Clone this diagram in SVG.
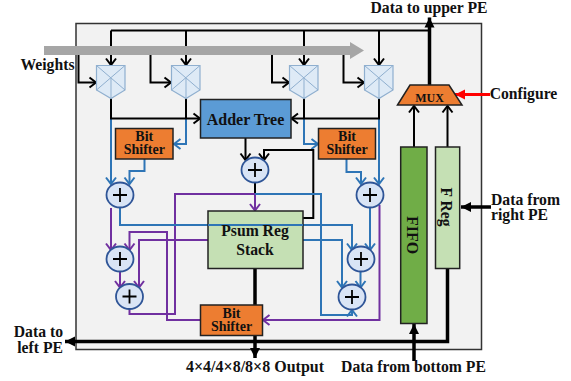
<svg xmlns="http://www.w3.org/2000/svg" width="571" height="381" viewBox="0 0 571 381">
<style>
text{font-family:"Liberation Serif",serif;font-weight:bold;fill:#111;text-anchor:middle}
.l{font-size:15.7px}.s{font-size:14px}
.box{stroke:#222;stroke-width:1.5}
.org{fill:#ED7D31}
.mx{fill:#DEEAF6;stroke:#8FAFCF;stroke-width:1.2}
.mxl{fill:none;stroke:#8FAFCF;stroke-width:1}
.ad{fill:#D9E4F5;stroke:#2F5597;stroke-width:1.8}
.plus{stroke:#000;stroke-width:1.8;fill:none}
path.c{fill:none;stroke-linejoin:miter}
.k{stroke:#000;stroke-width:2;marker-end:url(#ak)}
.k0{stroke:#000;stroke-width:2}
.b{stroke:#2E75B6;stroke-width:2;marker-end:url(#ab)}
.b0{stroke:#2E75B6;stroke-width:2}
.p{stroke:#7030A0;stroke-width:2;marker-end:url(#ap)}
.t{stroke:#000;stroke-width:3.5;marker-end:url(#at)}
.r{stroke:#F00;stroke-width:3;marker-end:url(#ar)}
</style>
<defs>
<marker id="ak" markerUnits="userSpaceOnUse" markerWidth="14" markerHeight="14" refX="11" refY="7" orient="auto" overflow="visible"><path d="M4.500,2 L11,7 L4.500,12" fill="none" stroke="#000" stroke-width="2"/></marker>
<marker id="ab" markerUnits="userSpaceOnUse" markerWidth="14" markerHeight="14" refX="11" refY="7" orient="auto" overflow="visible"><path d="M4.500,2 L11,7 L4.500,12" fill="none" stroke="#2E75B6" stroke-width="2"/></marker>
<marker id="ap" markerUnits="userSpaceOnUse" markerWidth="14" markerHeight="14" refX="11" refY="7" orient="auto" overflow="visible"><path d="M4.500,2 L11,7 L4.500,12" fill="none" stroke="#7030A0" stroke-width="2"/></marker>
<marker id="at" markerUnits="userSpaceOnUse" markerWidth="14" markerHeight="14" refX="11" refY="7" orient="auto" overflow="visible"><path d="M1,2 L11,7 L1,12 Z" fill="#000"/></marker>
<marker id="ar" markerUnits="userSpaceOnUse" markerWidth="14" markerHeight="14" refX="11" refY="7" orient="auto" overflow="visible"><path d="M1,2 L11,7 L1,12 Z" fill="#F00"/></marker>
</defs>
<rect id="pe-frame" x="76" y="23.5" width="405.500" height="326" fill="#F2F2F2" stroke="#333" stroke-width="1.500"/>

<g id="connectors">
<path class="c k0" d="M111,30.500 H429"/>
<path class="c k" d="M111,30.500 V65"/>
<path class="c k" d="M186,30.500 V65"/>
<path class="c k" d="M304,30.500 V65"/>
<path class="c k" d="M379,30.500 V65"/>
<path class="c k" d="M78.500,55 V82.500 H96"/>
<path class="c k" d="M150.500,55 V82.500 H171"/>
<path class="c k" d="M272,55 V82.500 H289"/>
<path class="c k" d="M343.500,55 V82.500 H364"/>
<path class="c b" d="M111,118.500 V184"/>
<path class="c b" d="M186,118.500 V144 H174"/>
<path class="c b" d="M144.500,159 V171 H129.500 V184"/>
<path class="c b" d="M304,118.500 V144 H318"/>
<path class="c b" d="M379,118.500 V184"/>
<path class="c b" d="M346.500,159 V172 H361 V184"/>
<path class="c k" d="M111,98 V118.500 H200"/>
<path class="c k0" d="M186,98 V118.500"/>
<path class="c k" d="M379,98 V118.500 H291.500"/>
<path class="c k0" d="M304,98 V118.500"/>
<path class="c k" d="M245.500,138 V160"/>
<path class="c k" d="M303,218 H313.300 V150 H264 V160"/>
<path class="c k0" d="M255,182 V211"/>
<path class="c p" d="M129.500,309 V314 H175 V194 H255 V210.500"/>
<path class="c p" d="M200.500,320 H167 V232 H129.500 V250"/>
<path class="c p" d="M208,240 H139 V287.500"/>
<path class="c p" d="M111,208 V250"/>
<path class="c p" d="M120,272 V287.500"/>
<path class="c p" d="M379.500,205 V320 H263"/>
<path class="c b" d="M120,208 V225 H352 V250"/>
<path class="c b" d="M303,240 H342 V287.500"/>
<path class="c b" d="M255,194 H321 V315 H352 V310"/>
<path class="c b" d="M370,208 V250"/>
<path class="c b" d="M360.500,272 V287.500"/>
<path class="c t" d="M255,268.500 V358"/>
<path class="c t" d="M447.500,268.500 V341.500 H65"/>
<path class="c t" d="M414,361 V324"/>
<path class="c k" d="M414,147 V106"/>
<path class="c k" d="M447.500,147 V106"/>
<path class="c t" d="M429.500,85 V17.500"/>
<path class="c r" d="M490,94.500 H455"/>
<path class="c t" d="M491,207 H461"/>
</g>
<path id="weights-arrow" d="M44,46 H350 V42 L364,50.500 L350,59 V55 H44 Z" fill="#A6A6A6"/>

<g id="mux1"><path class="mx" d="M96.500,65.500 H125 V90 L111,98.500 L96.500,90 Z"/><path class="mxl" d="M96.500,65.500 L125,90 M125,65.500 L96.500,90 M111,78 V98.500"/></g>
<g id="mux2"><path class="mx" d="M171.500,65.500 H200 V90 L186,98.500 L171.500,90 Z"/><path class="mxl" d="M171.500,65.500 L200,90 M200,65.500 L171.500,90 M186,78 V98.500"/></g>
<g id="mux3"><path class="mx" d="M289.500,65.500 H318 V90 L304,98.500 L289.500,90 Z"/><path class="mxl" d="M289.500,65.500 L318,90 M318,65.500 L289.500,90 M304,78 V98.500"/></g>
<g id="mux4"><path class="mx" d="M364.500,65.500 H393 V90 L379,98.500 L364.500,90 Z"/><path class="mxl" d="M364.500,65.500 L393,90 M393,65.500 L364.500,90 M379,78 V98.500"/></g>

<g id="adder-tree"><rect class="box" x="200.500" y="99.500" width="90.500" height="38.500" fill="#5B9BD5"/><text x="245.500" y="125" style="font-size:16px">Adder Tree</text></g>
<g id="shifter-left"><rect class="box org" x="115.500" y="128.500" width="57.500" height="30.500"/><text class="s" x="144.300" y="141"><tspan x="144.300">Bit</tspan><tspan x="144.300" dy="13.300">Shifter</tspan></text></g>
<g id="shifter-right"><rect class="box org" x="318.500" y="128.500" width="57" height="30.500"/><text class="s" x="347" y="141"><tspan x="347">Bit</tspan><tspan x="347" dy="13.300">Shifter</tspan></text></g>
<g id="shifter-bottom"><rect class="box org" x="200.500" y="305" width="62" height="30.500"/><text class="s" x="231.500" y="317.500"><tspan x="231.500">Bit</tspan><tspan x="231.500" dy="13">Shifter</tspan></text></g>
<g id="psum"><rect class="box" x="208" y="211" width="95" height="57.500" fill="#C5E0B4"/><path class="b0" d="M208,225 H303"/><text class="l" x="255" y="236">Psum Reg</text><text class="l" x="255" y="255">Stack</text></g>
<g id="fifo"><rect class="box" x="400.700" y="147" width="26.300" height="176.500" fill="#70AD47"/><text style="font-size:16px" transform="translate(407,235) rotate(90)">FIFO</text></g>
<g id="freg"><rect class="box" x="435.500" y="147" width="24.200" height="121.500" fill="#C5E0B4"/><text style="font-size:15.700px" transform="translate(440.500,207) rotate(90)">F Reg</text></g>
<g id="mux-out"><path class="box org" d="M397.500,105 L410,85 H449 L462,105 Z"/><text x="429.500" y="101.500" style="font-size:12px">MUX</text></g>

<g id="add-top"><ellipse class="ad" cx="255" cy="170" rx="13.500" ry="12.500"/><path class="plus" d="M248,170 H262 M255,163 V177"/></g>
<g id="add-l1"><ellipse class="ad" cx="120" cy="195" rx="13.500" ry="12.500"/><path class="plus" d="M113,195 H127 M120,188 V202"/></g>
<g id="add-l2"><ellipse class="ad" cx="120" cy="259" rx="13.500" ry="12.500"/><path class="plus" d="M113,259 H127 M120,252 V266"/></g>
<g id="add-l3"><ellipse class="ad" cx="129.500" cy="296.500" rx="13.500" ry="12.500"/><path class="plus" d="M122.500,296.500 H136.500 M129.500,289.500 V303.500"/></g>
<g id="add-r1"><ellipse class="ad" cx="370" cy="195" rx="13.500" ry="12.500"/><path class="plus" d="M363,195 H377 M370,188 V202"/></g>
<g id="add-r2"><ellipse class="ad" cx="361" cy="259" rx="13.500" ry="12.500"/><path class="plus" d="M354,259 H368 M361,252 V266"/></g>
<g id="add-r3"><ellipse class="ad" cx="352" cy="297" rx="13.500" ry="12.500"/><path class="plus" d="M345,297 H359 M352,290 V304"/></g>

<text class="l" x="47.500" y="69.500">Weights</text>
<text class="l" x="429" y="13.300">Data to upper PE</text>
<text class="l" x="523.500" y="99">Configure</text>
<text class="l" x="491" y="205" style="text-anchor:start">Data from</text>
<text class="l" x="491" y="220" style="text-anchor:start">right PE</text>
<text class="l" x="63" y="337.300" style="text-anchor:end">Data to</text>
<text class="l" x="63" y="352.700" style="text-anchor:end">left PE</text>
<text class="l" x="255" y="372" style="font-size:16px">4×4/4×8/8×8 Output</text>
<text class="l" x="413.500" y="372">Data from bottom PE</text>
</svg>
